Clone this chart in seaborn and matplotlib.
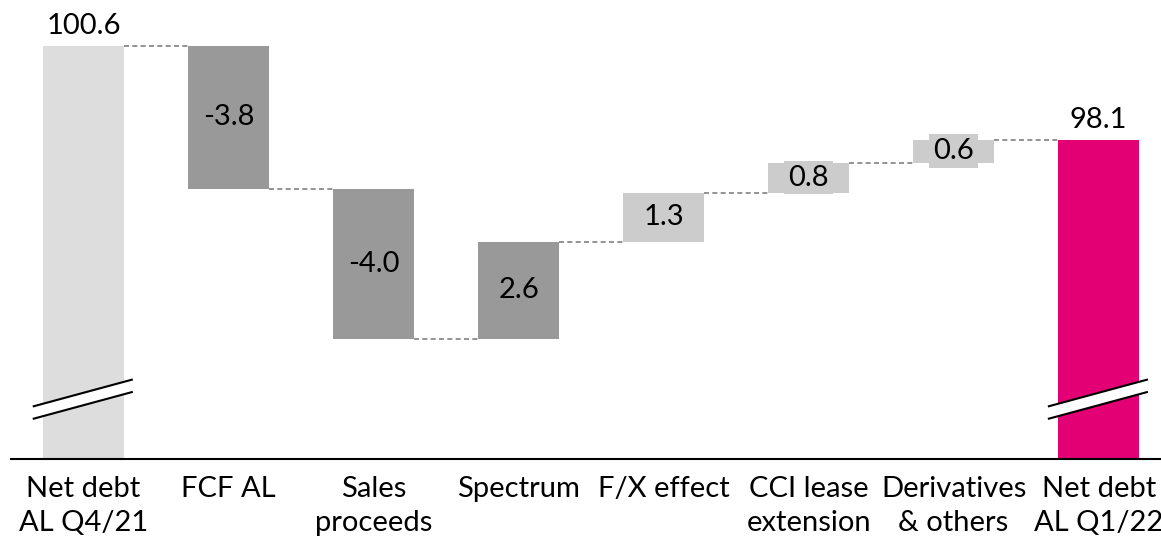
import matplotlib
matplotlib.use("Agg")
import matplotlib.pyplot as plt
import seaborn as sns
import pandas as pd
from matplotlib.patches import Polygon

# Net debt bridge (EUR bn)
categories = ["Net debt\nAL Q4/21", "FCF AL", "Sales\nproceeds", "Spectrum",
              "F/X effect", "CCI lease\nextension", "Derivatives\n& others",
              "Net debt\nAL Q1/22"]
values = [100.6, -3.8, -4.0, 2.6, 1.3, 0.8, 0.6, 98.1]
value_labels = ["100.6", "-3.8", "-4.0", "2.6", "1.3", "0.8", "0.6", "98.1"]
is_total = [True, False, False, False, False, False, False, True]
bar_colors = ["#DDDDDD", "#999999", "#999999", "#999999",
              "#CCCCCC", "#CCCCCC", "#CCCCCC", "#E20074"]

sns.set_theme(style="white")
plt.rcParams["font.family"] = ["Lato", "DejaVu Sans"]
FONT_SIZE = 21

# running totals: each step starts where the previous one ended
starts, ends = [], []
running = 0.0
for v, total in zip(values, is_total):
    if total:
        starts.append(0.0)
        ends.append(v)
        running = v
    else:
        starts.append(running)
        running = round(running + v, 6)
        ends.append(running)

df = pd.DataFrame({
    "category": categories,
    "height": [abs(e - s) for s, e in zip(starts, ends)],
})

BAR_W = 0.56
fig = plt.figure(figsize=(11.61, 5.42), dpi=100)
ax = fig.add_axes([11 / 1161, 83 / 542, 1150 / 1161, 459 / 542])

sns.barplot(data=df, x="category", y="height", hue="category",
            palette=bar_colors, width=BAR_W, saturation=1, legend=False,
            ax=ax, zorder=2)

# move each floating bar to its start level
for i, patch in enumerate(ax.patches):
    patch.set_y(min(starts[i], ends[i]))
    patch.set_height(abs(ends[i] - starts[i]))
    patch.set_linewidth(0)

ax.set_ylim(89.62, 101.82)
ax.set_xlim(-0.5, 7.43)

# dashed connectors between consecutive bars
for i in range(len(values) - 1):
    ax.plot([i + BAR_W / 2, i + 1 - BAR_W / 2], [ends[i], ends[i]],
            color="#808080", lw=1.2, ls=(0, (3, 2)), zorder=1)

# value labels
for i, (lab, total) in enumerate(zip(value_labels, is_total)):
    if total:
        ax.annotate(lab, (i, ends[i]), xytext=(0, 5), textcoords="offset points",
                    ha="center", va="bottom", fontsize=FONT_SIZE, color="black",
                    zorder=4)
    else:
        mid = (starts[i] + ends[i]) / 2
        ax.text(i, mid, lab, ha="center", va="center", fontsize=FONT_SIZE,
                color="black", zorder=4,
                bbox=dict(boxstyle="square,pad=0.13", fc=bar_colors[i], ec="none"))

# axis-break marks on the total bars
BREAK_Y = 91.21
BREAK_RISE = 0.36
BREAK_GAP = 0.33
for i, total in enumerate(is_total):
    if not total:
        continue
    x0, x1 = i - 0.35, i + 0.34
    lo0, lo1 = BREAK_Y - BREAK_RISE - BREAK_GAP / 2, BREAK_Y + BREAK_RISE - BREAK_GAP / 2
    hi0, hi1 = lo0 + BREAK_GAP, lo1 + BREAK_GAP
    ax.add_patch(Polygon([[x0, lo0], [x1, lo1], [x1, hi1], [x0, hi0]],
                         closed=True, fc="white", ec="none", zorder=3))
    ax.plot([x0, x1], [lo0, lo1], color="black", lw=1.5, zorder=3.5,
            solid_capstyle="butt")
    ax.plot([x0, x1], [hi0, hi1], color="black", lw=1.5, zorder=3.5,
            solid_capstyle="butt")

for side in ["top", "left", "right"]:
    ax.spines[side].set_visible(False)
ax.spines["bottom"].set_color("black")
ax.spines["bottom"].set_linewidth(1.5)
ax.spines["bottom"].set_zorder(5)
ax.set_yticks([])
ax.set_xlabel("")
ax.set_ylabel("")
ax.tick_params(axis="x", length=0, pad=12, labelsize=FONT_SIZE, labelcolor="black")
for lbl in ax.get_xticklabels():
    lbl.set_linespacing(1.42)

fig.savefig("out.png", dpi=100)
